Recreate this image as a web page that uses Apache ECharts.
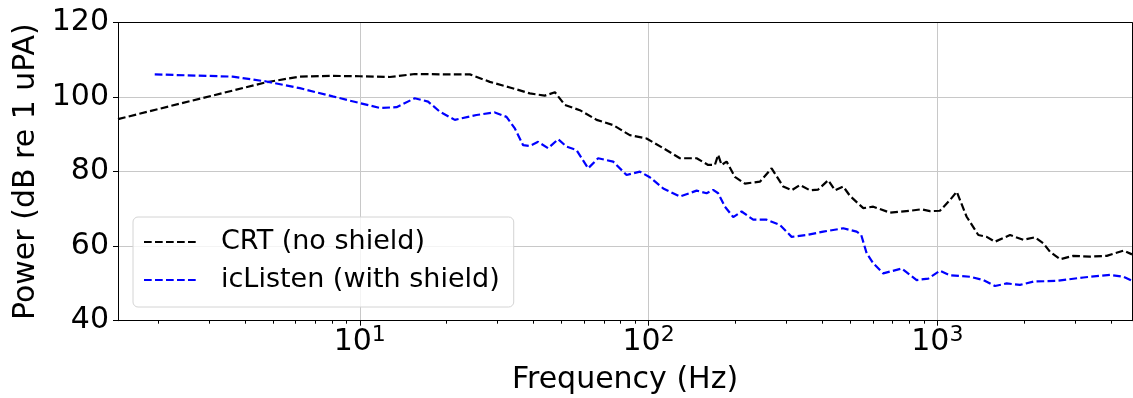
<!DOCTYPE html>
<html>
<head>
<meta charset="utf-8">
<script src="https://cdn.jsdelivr.net/npm/echarts@6/dist/echarts.min.js"></script>
<style>
  html, body { margin: 0; padding: 0; background: #fff; }
  #chart { width: 1133px; height: 398px; }
</style>
</head>
<body>
<div id="chart"></div>
<script>
// ---- data ----
const crtFreq = [1.455, 2.4, 4.75, 6.20, 7.87, 10, 12.7, 15.5, 20, 24.05, 28.2, 33.1, 38.8, 43.7, 47.4, 51.3, 57.8, 66.1, 75.4, 86.1, 98.4, 112.4, 128.4, 146.7, 160.8, 169.7, 174.2, 179.0, 186.3, 199.0, 215.6, 243.0, 266.7, 292.6, 312.9, 334.3, 362.0, 386.7, 419.0, 441.9, 472.2, 498.2, 539.5, 554, 599.8, 685, 803.4, 882.2, 942.8, 1021, 1106, 1167, 1263, 1386, 1482, 1583, 1785, 1984, 2178, 2327, 2455, 2658, 2956, 3378, 3858, 4405, 4720];
const crtPower = [94.1, 98.3, 104.0, 105.5, 105.7, 105.6, 105.4, 106.2, 106.1, 106.1, 104.1, 102.6, 101.0, 100.4, 101.3, 97.9, 96.5, 93.9, 92.5, 89.8, 88.9, 86.3, 83.6, 83.6, 81.8, 81.8, 84.5, 81.8, 82.7, 78.6, 76.8, 77.3, 80.9, 76.0, 75.0, 76.4, 75.0, 75.2, 77.7, 75.0, 76.0, 73.5, 71.0, 70.2, 70.6, 69.0, 69.5, 69.9, 69.4, 69.5, 72.4, 74.6, 67.9, 63.0, 62.5, 61.2, 63.0, 61.7, 62.4, 60.8, 58.5, 56.5, 57.4, 57.2, 57.4, 58.8, 57.8];
const icFreq = [1.95, 3.63, 4.75, 6.20, 8.06, 10, 11.73, 13.41, 15.50, 17.24, 18.93, 21.34, 25.36, 29.35, 32.22, 34.43, 36.78, 38.8, 41.46, 44.90, 48.63, 52.00, 56.30, 61.77, 66.91, 75.4, 83.9, 93.3, 101.0, 112.4, 128.4, 146.7, 158.8, 167.4, 174.2, 183.8, 196.4, 209.9, 230.3, 256.3, 285.0, 312.9, 352.6, 402.6, 472.2, 525.4, 545, 569.0, 599.8, 649.4, 752.1, 847.7, 930.0, 1021, 1106, 1297, 1442, 1583, 1738, 1932, 2149, 2590, 3202, 3963, 4405, 4720];
const icPower = [106.1, 105.5, 104.2, 102.4, 100.2, 98.4, 97.1, 97.3, 99.7, 98.8, 96.1, 93.9, 95.2, 95.9, 94.7, 91.6, 87.1, 86.9, 88.0, 86.3, 88.7, 86.7, 85.8, 80.9, 83.6, 82.7, 79.1, 80.0, 78.5, 75.5, 73.3, 74.9, 74.2, 75.1, 74.2, 70.6, 67.8, 69.3, 67.1, 67.1, 65.7, 62.5, 63.0, 63.9, 64.8, 63.9, 63.0, 58.1, 55.4, 52.7, 54.0, 50.9, 51.3, 53.4, 52.2, 51.8, 50.9, 49.3, 50.0, 49.6, 50.5, 50.7, 51.6, 52.3, 51.8, 50.7];

const seriesNames = ['CRT (no shield)', 'icListen (with shield)'];
const xMajorTicks = [10, 100, 1000];
const xMajorExponents = ['1', '2', '3'];
const xMinorTicks = [2, 3, 4, 5, 6, 7, 8, 9, 20, 30, 40, 50, 60, 70, 80, 90, 200, 300, 400, 500, 600, 700, 800, 900, 2000, 3000, 4000];
const xMin = 1.455, xMax = 4720;
const yMin = 40, yMax = 120, yStep = 20;

const FONT = 'DejaVu Sans';
const chart = echarts.init(document.getElementById('chart'), null, { renderer: 'canvas' });

function pairs(xs, ys) { return xs.map((x, i) => [x, ys[i]]); }

const dash = [7.7, 3.3];

chart.setOption({
  animation: false,
  backgroundColor: '#ffffff',
  textStyle: { fontFamily: FONT },
  grid: { left: 118, right: 1, top: 22.6, bottom: 77.3, containLabel: false, outerBoundsMode: 'none' },
  legend: {
    orient: 'vertical',
    left: 133, top: 217,
    padding: [10, 14, 12, 10],
    itemGap: 8,
    itemWidth: 55, itemHeight: 14,
    backgroundColor: 'rgba(255,255,255,0.8)',
    borderColor: '#d4d4d4', borderWidth: 1, borderRadius: 5,
    itemStyle: { opacity: 0, borderWidth: 0 },
    textStyle: { fontFamily: FONT, fontSize: 27, color: '#000', lineHeight: 30, padding: [0, 0, 0, 17] },
    data: seriesNames
  },
  xAxis: [
    {
      type: 'log', logBase: 10, min: xMin, max: xMax, position: 'bottom',
      name: 'Frequency (Hz)', nameLocation: 'middle', nameGap: 45,
      nameTextStyle: { fontFamily: FONT, fontSize: 30, color: '#000' },
      axisLine: { show: true, lineStyle: { color: '#000', width: 1 } },
      axisTick: { show: true, inside: false, length: 5, customValues: xMajorTicks, lineStyle: { color: '#000', width: 1 } },
      axisLabel: {
        customValues: xMajorTicks, margin: 4, color: '#000',
        formatter: function (v) {
          const i = xMajorTicks.indexOf(v);
          return '{b|10}{s|' + (i >= 0 ? xMajorExponents[i] : '') + '}';
        },
        rich: {
          b: { fontFamily: FONT, fontSize: 30, lineHeight: 36, color: '#000' },
          s: { fontFamily: FONT, fontSize: 22, lineHeight: 26, verticalAlign: 'top', color: '#000' }
        }
      },
      splitLine: { show: true, lineStyle: { color: '#c8c8c8', width: 1 } },
      minorTick: { show: false }, minorSplitLine: { show: false }
    },
    {
      type: 'log', logBase: 10, min: xMin, max: xMax, position: 'bottom',
      axisLine: { show: false },
      axisTick: { show: true, inside: false, length: 3, customValues: xMinorTicks, lineStyle: { color: '#000', width: 1 } },
      axisLabel: { show: false },
      splitLine: { show: false }
    },
    {
      type: 'log', logBase: 10, min: xMin, max: xMax, position: 'top',
      axisLine: { show: true, lineStyle: { color: '#000', width: 1 } },
      axisTick: { show: false }, axisLabel: { show: false }, splitLine: { show: false }
    }
  ],
  yAxis: [
    {
      type: 'value', min: yMin, max: yMax, interval: yStep, position: 'left',
      name: 'Power (dB re 1 uPA)', nameLocation: 'middle', nameGap: 75,
      nameTextStyle: { fontFamily: FONT, fontSize: 30, color: '#000' },
      axisLine: { show: true, lineStyle: { color: '#000', width: 1 } },
      axisTick: { show: true, inside: false, length: 5, lineStyle: { color: '#000', width: 1 } },
      axisLabel: { fontFamily: FONT, fontSize: 30, color: '#000', margin: 9 },
      splitLine: { show: true, lineStyle: { color: '#c8c8c8', width: 1 } }
    },
    {
      type: 'value', min: yMin, max: yMax, interval: yStep, position: 'right',
      axisLine: { show: true, lineStyle: { color: '#000', width: 1 } },
      axisTick: { show: false }, axisLabel: { show: false }, splitLine: { show: false }
    }
  ],
  series: [
    {
      name: seriesNames[0], type: 'line', xAxisIndex: 0, yAxisIndex: 0,
      data: pairs(crtFreq, crtPower), symbol: 'none', showSymbol: false,
      lineStyle: { color: '#000000', width: 2.2, type: dash },
      itemStyle: { color: '#000000' }, z: 3
    },
    {
      name: seriesNames[1], type: 'line', xAxisIndex: 0, yAxisIndex: 0,
      data: pairs(icFreq, icPower), symbol: 'none', showSymbol: false,
      lineStyle: { color: '#0000ff', width: 2.2, type: dash },
      itemStyle: { color: '#0000ff' }, z: 3
    }
  ]
});
</script>
</body>
</html>
